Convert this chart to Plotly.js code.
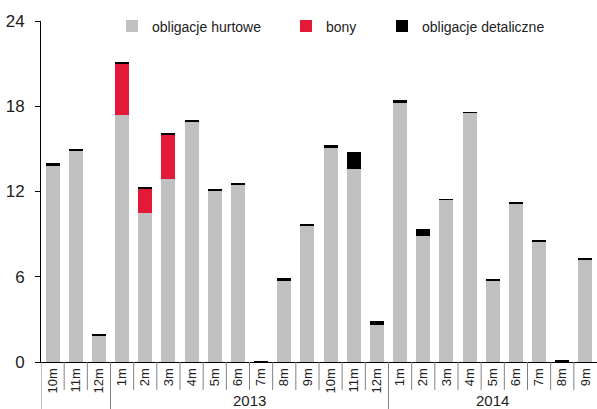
<!DOCTYPE html>
<html>
<head>
<meta charset="utf-8">
<script src="https://cdn.plot.ly/plotly-3.0.1.min.js"></script>
<style>html,body{margin:0;padding:0;background:#fff;}#chart{width:597px;height:409px;}</style>
</head>
<body>
<div id="chart"></div>
<script>
var monthLabels = ['10m','11m','12m','1m','2m','3m','4m','5m','6m','7m','8m','9m','10m','11m','12m','1m','2m','3m','4m','5m','6m','7m','8m','9m'];
var hurtowe = [13.8,14.85,1.8,17.4,10.5,12.9,16.9,12.05,12.45,0,5.7,9.55,15.05,13.6,2.6,18.2,8.9,11.4,17.55,5.7,11.15,8.45,0,7.15];
var bony    = [0,0,0,3.6,1.7,3.1,0,0,0,0,0,0,0,0,0,0,0,0,0,0,0,0,0,0];
var detal   = [0.2,0.15,0.2,0.1,0.1,0.15,0.15,0.15,0.15,0.1,0.2,0.15,0.2,1.15,0.3,0.25,0.45,0.1,0.08,0.15,0.1,0.15,0.12,0.15];
var years = ['2013','2014'];
var yearStart = [3,15];
var yearEnd = [14,23];
var seriesNames = ['obligacje hurtowe','bony','obligacje detaliczne'];

var FONT = '"Liberation Sans", Arial, sans-serif';
var xs = monthLabels.map(function(_, i){ return i; });

var traces = [
  {type:'bar', x:xs, y:hurtowe, name:seriesNames[0], marker:{color:'#C0C0C0'}, legend:'legend'},
  {type:'bar', x:xs, y:bony, name:seriesNames[1], marker:{color:'#E31937'}, legend:'legend2'},
  {type:'bar', x:xs, y:detal, name:seriesNames[2], marker:{color:'#000000'}, legend:'legend3'}
];

var shapes = [];
var boundaries = [-0.5, yearStart[0]-0.5, yearStart[1]-0.5];
for (var i = 0; i < monthLabels.length; i++) {
  var bx = i - 0.5;
  var isLong = boundaries.indexOf(bx) >= 0;
  shapes.push({type:'line', xref:'x', yref:'paper', x0:bx, x1:bx, y0:0, y1:isLong ? -0.14 : -0.082,
    line:{color:'#808080', width:1}});
}

var annotations = years.map(function(y, k){
  return {text:y, xref:'x', yref:'paper', x:(yearStart[k]+yearEnd[k])/2, y:-0.112,
    xanchor:'center', yanchor:'middle', showarrow:false, font:{family:FONT, size:15, color:'#222'}};
});

var PLOT_L = 41, PLOT_W = 556;
function leg(xpx){
  return {orientation:'h', x:(xpx-PLOT_L)/PLOT_W, xanchor:'left', y:1 - (26.5-21)/341, yanchor:'middle',
    yref:'paper', font:{family:FONT, size:14, color:'#222'}, bgcolor:'rgba(0,0,0,0)', borderwidth:0,
    indentation:-10, itemclick:false, itemdoubleclick:false};
}

var layout = {
  width:597, height:409,
  margin:{l:41, r:0, t:21, b:47, pad:0},
  paper_bgcolor:'#fff', plot_bgcolor:'#fff',
  barmode:'stack', bargap:0.4,
  font:{family:FONT, color:'#222'},
  showlegend:true,
  legend: leg(122),
  legend2: leg(296),
  legend3: leg(392),
  xaxis:{range:[-0.5, monthLabels.length-0.5], tickmode:'array', tickvals:xs, ticktext:monthLabels,
    tickangle:-90, ticks:'', showgrid:false, zeroline:false, showline:true, linecolor:'#000', linewidth:1,
    tickfont:{family:FONT, size:13, color:'#222'}, fixedrange:true},
  yaxis:{range:[0,24], tickmode:'array', tickvals:[0,6,12,18,24], ticks:'outside', ticklen:5, tickcolor:'#000',
    showgrid:false, zeroline:false, showline:true, linecolor:'#000', linewidth:1,
    tickfont:{family:FONT, size:17, color:'#222'}, ticklabelstandoff:7, fixedrange:true},
  shapes:shapes,
  annotations:annotations
};

Plotly.newPlot('chart', traces, layout, {displayModeBar:false, staticPlot:true});
</script>
</body>
</html>
